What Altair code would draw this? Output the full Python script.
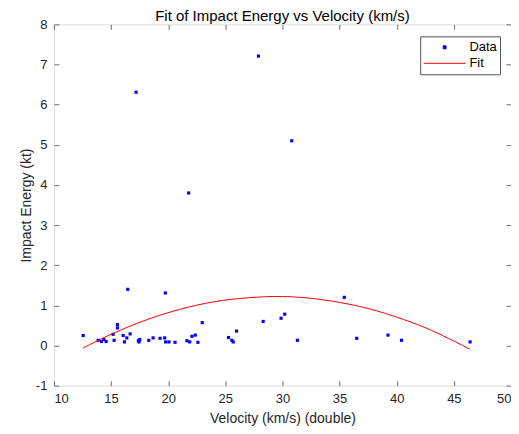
import altair as alt
import pandas as pd

# ---- data ----
velocity = [12.56, 13.87, 14.16, 14.37, 14.57, 15.18, 15.27, 15.56, 15.56, 16.06,
            16.17, 16.38, 16.67, 16.46, 17.19, 17.39, 17.51, 17.45, 18.30, 18.68,
            19.29, 19.69, 19.75, 19.78, 20.07, 20.60, 21.64, 21.79, 21.88, 22.08,
            22.37, 22.60, 22.98, 25.28, 25.57, 25.69, 25.98, 27.90, 28.31, 29.88,
            30.20, 30.81, 31.31, 35.41, 36.50, 39.23, 40.42, 46.42]
energy = [0.25, 0.13, 0.10, 0.15, 0.10, 0.28, 0.13, 0.52, 0.44, 0.25,
          0.09, 0.19, 0.29, 1.40, 6.31, 0.12, 0.15, 0.09, 0.13, 0.19,
          0.18, 0.19, 1.31, 0.09, 0.09, 0.08, 0.12, 3.80, 0.09, 0.23,
          0.26, 0.08, 0.57, 0.20, 0.13, 0.09, 0.36, 7.21, 0.60, 0.68,
          0.78, 5.10, 0.13, 1.20, 0.18, 0.26, 0.13, 0.09]

fit_velocity = [12.56, 15, 18, 21, 24, 27, 30, 33, 36, 39, 42, 44, 46.42]
fit_energy = [-0.06, 0.28, 0.63, 0.90, 1.09, 1.19, 1.22, 1.16, 1.02, 0.80, 0.50, 0.25, -0.09]

series_names = ["Data", "Fit"]
series_colors = ["#0000ff", "#ff0000"]
x_ticks = [10, 15, 20, 25, 30, 35, 40, 45, 50]
y_ticks = [-1, 0, 1, 2, 3, 4, 5, 6, 7, 8]

df_pts = pd.DataFrame({"velocity": velocity, "energy": energy, "series": "Data"})
df_fit = pd.DataFrame({"velocity": fit_velocity, "energy": fit_energy, "series": "Fit"})

FONT = "Liberation Sans"
TXT = "#262626"
AX = "#6e6e6e"

x_scale = alt.Scale(domain=[10, 50], nice=False, zero=False)
y_scale = alt.Scale(domain=[-1, 8], nice=False, zero=False)
color_scale = alt.Scale(domain=series_names, range=series_colors)

legend = alt.Legend(
    title=None, orient="none", legendX=367, legendY=12,
    padding=3, fillColor="white", strokeColor="#555555",
    symbolSize=1764, symbolStrokeWidth=1, symbolOffset=0, clipHeight=16,
    labelOffset=3.3, rowPadding=0, symbolOpacity=1,
    symbolType=alt.ExprRef(expr="datum.value === 'Fit' ? 'stroke' : 'M-0.07,-0.07H0.07V0.07H-0.07Z'"),
    symbolFillColor=alt.ExprRef(expr="datum.value === 'Fit' ? 'transparent' : '#0000ff'"),
    symbolStrokeColor=alt.ExprRef(expr="datum.value === 'Fit' ? '#ff0000' : 'transparent'"),
    labelFont=FONT, labelFontSize=13, labelColor="black",
)

common_axis = dict(grid=False, domain=False, offset=-5, tickSize=5, tickColor=AX,
                   labelFont=FONT, labelFontSize=13, labelColor=TXT,
                   titleFont=FONT, titleFontSize=14, titleColor=TXT, titleFontWeight="normal")

points = alt.Chart(df_pts).mark_point(shape="square", filled=True, size=10, opacity=1).encode(
    x=alt.X("velocity:Q", scale=x_scale,
            axis=alt.Axis(orient="bottom", values=x_ticks, title="Velocity (km/s) (double)",
                          labelPadding=7, titlePadding=6, **common_axis)),
    y=alt.Y("energy:Q", scale=y_scale,
            axis=alt.Axis(orient="left", values=y_ticks, title="Impact Energy (kt)",
                          labelPadding=7, titlePadding=2,
                          labelExpr="replace(datum.label, '\u2212', '-')", **common_axis)),
    color=alt.Color("series:N", scale=color_scale, legend=legend),
)

line = alt.Chart(df_fit).mark_line(strokeWidth=1, interpolate="natural").encode(
    x=alt.X("velocity:Q", scale=x_scale,
            axis=alt.Axis(orient="top", values=x_ticks, labels=False, title=None, **common_axis)),
    y=alt.Y("energy:Q", scale=y_scale,
            axis=alt.Axis(orient="right", values=y_ticks, labels=False, title=None, **common_axis)),
    color=alt.Color("series:N", scale=color_scale, legend=legend),
)

chart = alt.layer(points, line).properties(
    width=458, height=362,
    title=alt.Title("Fit of Impact Energy vs Velocity (km/s)", font=FONT, fontSize=15,
                    fontWeight="normal", color="black", offset=5, frame="group",
                    anchor="middle", dy=11),
    autosize=alt.AutoSizeParams(type="none"),
    padding={"left": 46, "top": 16, "right": 0, "bottom": 44},
).configure_view(stroke=AX, strokeWidth=1).configure(background="white")

chart.save("out.html", embed_options={"renderer": "svg", "actions": False})
